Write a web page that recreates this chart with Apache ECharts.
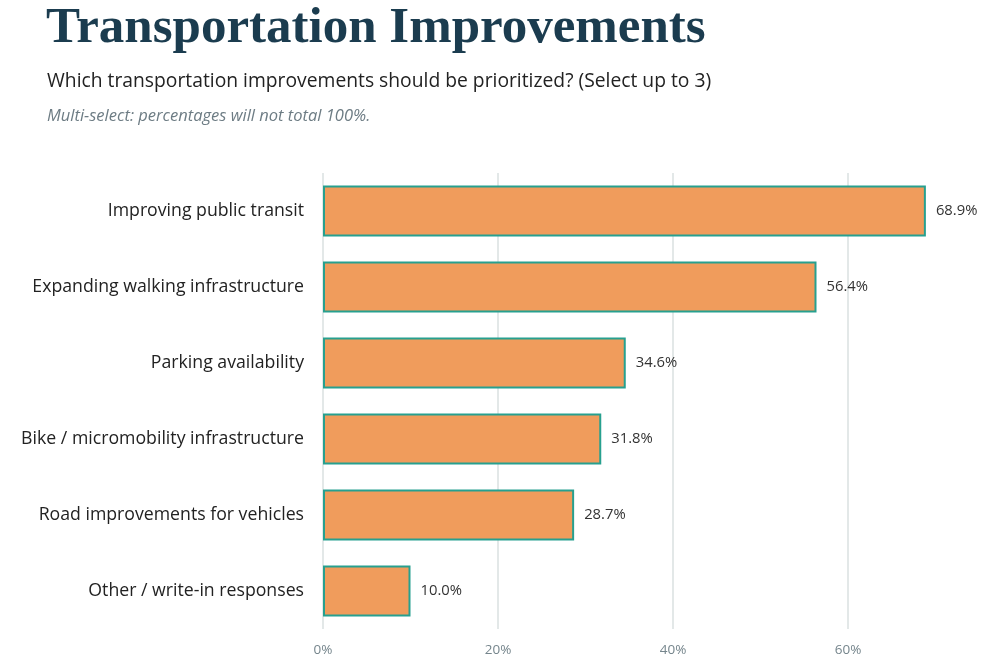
<!DOCTYPE html>
<html>
<head>
    <meta charset="utf-8">
    <title>Transportation Improvements</title>
    <script src="https://cdn.jsdelivr.net/npm/echarts@6/dist/echarts.min.js"></script>
    <style type="text/css">
        html, body {
            height: 100%;
            margin: 0;
            padding: 0;
            background: #fff;
        }

        #main {
            width: 986px;
            height: 668px;
        }
    </style>
</head>
<body>
<div id="main"></div>
<script type="text/javascript">
    // data, top to bottom as shown
    var categories = [
        'Improving public transit',
        'Expanding walking infrastructure',
        'Parking availability',
        'Bike / micromobility infrastructure',
        'Road improvements for vehicles',
        'Other / write-in responses'
    ];
    var shares = [68.9, 56.4, 34.6, 31.8, 28.7, 10.0];
    var tickValues = [0, 20, 40, 60];

    var myChart = echarts.init(document.getElementById('main'));

    var option = {
        backgroundColor: '#ffffff',
        animation: false,
        title: [
            {
                text: 'Transportation Improvements',
                left: 46,
                top: 3,
                padding: 0,
                textStyle: {
                    fontFamily: 'Liberation Serif',
                    fontWeight: 'bold',
                    fontSize: 51,
                    color: '#1b3c4f'
                }
            },
            {
                text: 'Which transportation improvements should be prioritized? (Select up to 3)',
                left: 47,
                top: 72,
                padding: 0,
                textStyle: {
                    fontFamily: 'Open Sans',
                    fontWeight: 'normal',
                    fontSize: 19.3,
                    color: '#222222'
                }
            },
            {
                text: 'Multi-select: percentages will not total 100%.',
                left: 47,
                top: 108,
                padding: 0,
                textStyle: {
                    fontFamily: 'Open Sans',
                    fontStyle: 'italic',
                    fontWeight: 'normal',
                    fontSize: 16.5,
                    color: '#6d7c84'
                }
            }
        ],
        grid: {
            left: 323,
            right: 50.5,
            top: 173,
            bottom: 39,
            containLabel: false
        },
        xAxis: {
            type: 'value',
            min: 0,
            max: 70,
            interval: 20,
            axisLine: {show: false},
            axisTick: {show: false},
            splitLine: {
                show: true,
                showMaxLine: false,
                lineStyle: {color: '#e3e8e8', width: 2}
            },
            axisLabel: {
                margin: 14,
                fontFamily: 'Open Sans',
                fontSize: 13.5,
                color: '#75858c',
                showMaxLabel: false,
                formatter: function (v) {
                    return tickValues.indexOf(v) >= 0 ? v + '%' : '';
                }
            }
        },
        yAxis: {
            type: 'category',
            inverse: true,
            data: categories,
            axisLine: {show: false},
            axisTick: {show: false},
            axisLabel: {
                margin: 19,
                fontFamily: 'Open Sans',
                fontSize: 17.7,
                color: '#222222'
            }
        },
        series: [{
            type: 'bar',
            data: shares,
            barCategoryGap: '33%',
            itemStyle: {
                color: '#f09c5c',
                borderColor: '#27a08f',
                borderWidth: 2
            },
            label: {
                show: true,
                position: 'right',
                distance: 10,
                fontFamily: 'Open Sans',
                fontSize: 14.8,
                color: '#333333',
                formatter: function (p) {
                    return p.value.toFixed(1) + '%';
                }
            }
        }]
    };

    myChart.setOption(option);
</script>
</body>
</html>
